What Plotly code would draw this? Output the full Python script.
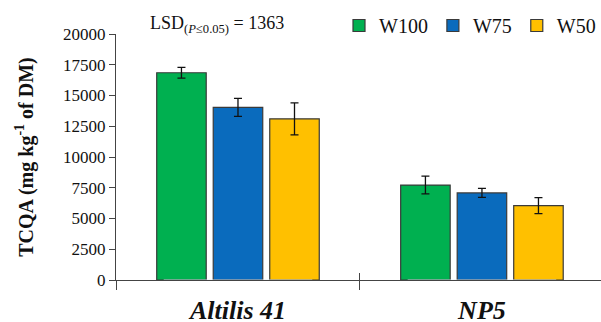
import plotly.graph_objects as go

categories = ["Altilis 41", "NP5"]
category_labels = ["<b><i>Altilis 41</i></b>", "<b><i>NP5</i></b>"]
series_names = ["W100", "W75", "W50"]
w100 = [16850, 7720]
w75 = [14030, 7080]
w50 = [13100, 6050]
w100_err = [430, 720]
w75_err = [730, 370]
w50_err = [1300, 650]
colors = ["#00B050", "#0A6BBD", "#FFC000"]
y_ticks = [0, 2500, 5000, 7500, 10000, 12500, 15000, 17500, 20000]
y_tick_labels = [str(v) for v in y_ticks]
lsd_text = "LSD<sub>(<i>P</i>≤0.05)</sub> = 1363"

serif = "Liberation Serif, Times New Roman, serif"
fig = go.Figure()
for name, vals, errs, col in zip(series_names, [w100, w75, w50], [w100_err, w75_err, w50_err], colors):
    fig.add_trace(go.Bar(
        x=categories, y=vals, name=name,
        marker=dict(color=col, line=dict(color="#3a3a3a", width=1.2)),
        error_y=dict(type="data", array=errs, visible=True, color="#111111", thickness=1.3, width=4),
    ))

# transparent trace on an overlay axis, used only for the ticks that cross the x axis
fig.add_trace(go.Bar(x=categories, y=[0, 0], xaxis="x2", showlegend=False, hoverinfo="skip",
                     marker=dict(color="rgba(0,0,0,0)")))

xr = [-0.5, 1.488]
fig.update_layout(
    width=601, height=322,
    margin=dict(l=116, r=0, t=34, b=42, autoexpand=False),
    paper_bgcolor="white", plot_bgcolor="white",
    barmode="group", bargap=0.305, bargroupgap=0.124,
    font=dict(family=serif, color="#111111"),
    showlegend=True,
    legend=dict(orientation="h", xref="container", yref="container",
                x=1.0, xanchor="right", y=1.0 - 6 / 322, yanchor="top",
                font=dict(family=serif, size=20, color="#111111"),
                itemwidth=30, traceorder="normal", bgcolor="rgba(0,0,0,0)"),
    xaxis=dict(range=xr, showline=True, linecolor="#444444", linewidth=1.2,
               ticks="outside", ticklen=9, tickcolor="#444444", tickwidth=1.2,
               tickson="boundaries", showgrid=False, automargin=False,
               tickvals=categories, ticktext=category_labels,
               tickfont=dict(family=serif, size=26, color="#111111"),
               ticklabelstandoff=7),
    xaxis2=dict(range=xr, overlaying="x", showline=False,
                ticks="inside", ticklen=7, tickcolor="#444444", tickwidth=1.2,
                tickson="boundaries", showticklabels=False, showgrid=False,
                automargin=False, anchor="y"),
    yaxis=dict(range=[0, 20000], tickvals=y_ticks, ticktext=y_tick_labels, showline=True,
               linecolor="#444444", automargin=False,
               linewidth=1.2, ticks="outside", ticklen=6, tickcolor="#444444", tickwidth=1.2,
               showgrid=False, zeroline=False,
               tickfont=dict(family=serif, size=17, color="#111111"),
               title=dict(text="<b>TCQA (mg kg<sup>-1</sup> of DM)</b>",
                          font=dict(family=serif, size=20, color="#111111"), standoff=24)),
    annotations=[dict(text=lsd_text, xref="paper", yref="paper", x=0.065, y=1.0,
                      xanchor="left", yanchor="bottom", showarrow=False, yshift=-4,
                      font=dict(family=serif, size=18, color="#111111"))],
)
fig.write_html("out.html", config={"displayModeBar": False},
               post_script="document.body.style.margin='0';document.body.style.padding='0';")
